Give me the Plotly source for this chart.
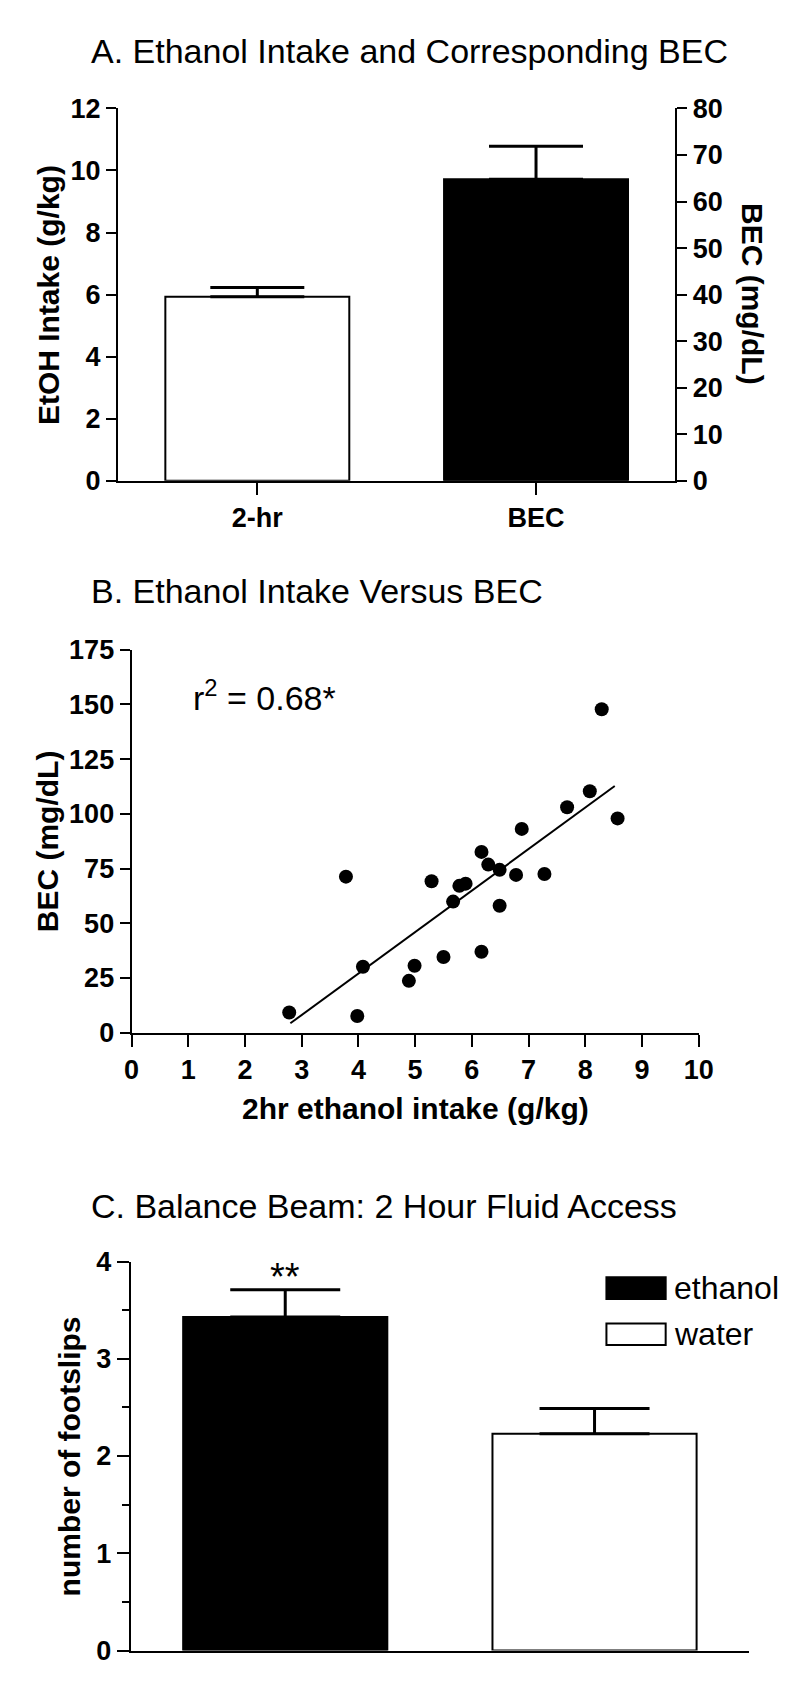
import plotly.graph_objects as go

# ---- panel A: ethanol intake and corresponding BEC ----
a_groups = ["2-hr", "BEC"]
a_intake = [5.93]        # g/kg, left axis
a_intake_sem = [0.30]
a_bec = [64.8]           # mg/dL, right axis
a_bec_sem = [7.1]

# ---- panel B: intake vs BEC scatter ----
b_intake = [2.78, 3.78, 3.98, 4.08, 4.89, 4.99, 5.29, 5.50, 5.67, 5.78, 5.89, 6.17,
            6.17, 6.29, 6.49, 6.49, 6.78, 6.88, 7.28, 7.68, 8.08, 8.29, 8.57]
b_bec = [9.2, 71.3, 7.6, 30.1, 23.7, 30.6, 69.2, 34.6, 59.9, 67.1, 68.1, 82.6,
         37.0, 76.8, 74.4, 58.0, 72.1, 93.1, 72.5, 103.0, 110.3, 147.8, 97.9]
b_fit_x = [2.80, 8.52]
b_fit_y = [4.3, 112.7]
b_r2 = "0.68"

# ---- panel C: balance beam ----
c_groups = ["ethanol", "water"]
c_footslips = [3.43, 2.23]
c_sem = [0.28, 0.26]
c_colors = ["black", "white"]

W, H = 796, 1686
FONT = "Liberation Sans, Arial, Helvetica, sans-serif"


def px(x):
    return x / W


def py(y):
    return 1 - y / H


fig = go.Figure()

# panel A bars (two y axes sharing one x axis)
fig.add_trace(go.Bar(
    x=[a_groups[0]], y=a_intake, xaxis="x", yaxis="y", width=0.66,
    marker=dict(color="white", line=dict(color="black", width=2)),
    error_y=dict(type="data", symmetric=False, array=a_intake_sem, arrayminus=[0],
                 color="black", thickness=3, width=47),
))
fig.add_trace(go.Bar(
    x=[a_groups[1]], y=a_bec, xaxis="x", yaxis="y2", width=0.66,
    marker=dict(color="black", line=dict(color="black", width=2)),
    error_y=dict(type="data", symmetric=False, array=a_bec_sem, arrayminus=[0],
                 color="black", thickness=3, width=47),
))

# panel B scatter + regression line
fig.add_trace(go.Scatter(
    x=b_fit_x, y=b_fit_y, xaxis="x2", yaxis="y3", mode="lines",
    line=dict(color="black", width=2),
))
fig.add_trace(go.Scatter(
    x=b_intake, y=b_bec, xaxis="x2", yaxis="y3", mode="markers",
    marker=dict(color="black", size=14), cliponaxis=False,
))

# panel C bars
for g, v, e, c in zip(c_groups, c_footslips, c_sem, c_colors):
    fig.add_trace(go.Bar(
        x=[g], y=[v], xaxis="x3", yaxis="y4", width=0.66,
        marker=dict(color=c, line=dict(color="black", width=2)),
        error_y=dict(type="data", symmetric=False, array=[e], arrayminus=[0],
                     color="black", thickness=3, width=55),
    ))

ax = dict(showline=True, linecolor="black", linewidth=2, ticks="outside",
          tickcolor="black", tickwidth=2, showgrid=False, zeroline=False,
          tickfont=dict(family=FONT, size=27, color="black", weight="bold"))

fig.update_layout(
    width=W, height=H, margin=dict(l=0, r=0, t=0, b=0),
    paper_bgcolor="white", plot_bgcolor="white",
    showlegend=False, barmode="overlay",
    font=dict(family=FONT, color="black"),
    xaxis=dict(ax, domain=[px(105), px(679)], anchor="y", type="category",
               categoryorder="array", categoryarray=a_groups, range=[-0.5, 1.5],
               ticklen=12),
    yaxis=dict(ax, domain=[py(466), py(87)], anchor="x", range=[0, 12], dtick=2,
               ticklen=10),
    yaxis2=dict(ax, overlaying="y", side="right", anchor="x", range=[0, 80],
                dtick=10, ticklen=10),
    xaxis2=dict(ax, domain=[px(119), px(703)], anchor="y3", range=[0, 10],
                dtick=1, ticklen=12),
    yaxis3=dict(ax, domain=[py(1028), py(638)], anchor="x2", range=[0, 175],
                dtick=25, ticklen=10),
    xaxis3=dict(ax, domain=[px(118), px(755)], anchor="y4", type="category",
                categoryorder="array", categoryarray=c_groups, range=[-0.5, 1.5],
                ticks="", showticklabels=False),
    yaxis4=dict(ax, domain=[py(1657), py(1261)], anchor="x3", range=[0, 4],
                dtick=1, ticklen=12,
                minor=dict(dtick=0.5, ticks="outside", ticklen=7, tickwidth=2,
                           tickcolor="black")),
)

title_font = dict(family=FONT, size=34, color="black")
bold_font = dict(family=FONT, size=30, color="black", weight="bold")
notes = [
    ("A. Ethanol Intake and Corresponding BEC", 75, 28, 0, "left", title_font),
    ("B. Ethanol Intake Versus BEC", 75, 578, 0, "left", title_font),
    ("C. Balance Beam: 2 Hour Fluid Access", 75, 1204, 0, "left", title_font),
    ("EtOH Intake (g/kg)", 33, 277, -90, "center", bold_font),
    ("BEC (mg/dL)", 759, 276, 90, "center", bold_font),
    ("BEC (mg/dL)", 32, 833, -90, "center", bold_font),
    ("2hr ethanol intake (g/kg)", 411, 1105, 0, "center", bold_font),
    ("number of footslips", 55, 1459, -90, "center", bold_font),
    ("ethanol", 676, 1288, 0, "left", dict(family=FONT, size=32, color="black")),
    ("water", 676, 1335, 0, "left", dict(family=FONT, size=32, color="black")),
]
for text, x, y, ang, anc, f in notes:
    fig.add_annotation(text=text, xref="paper", yref="paper", x=px(x), y=py(y),
                       xanchor=anc, yanchor="middle", textangle=ang,
                       showarrow=False, font=f)

fig.add_annotation(text="r<sup>2</sup> = " + b_r2 + "*", xref="x2", yref="y3",
                   x=1.04, y=154, xanchor="left", yanchor="middle",
                   showarrow=False, font=dict(family=FONT, size=34, color="black"))
fig.add_annotation(text="**", xref="x3", yref="y4", x=c_groups[0], y=3.84,
                   xanchor="center", yanchor="middle", showarrow=False,
                   font=dict(family=FONT, size=38, color="black"))

# legend boxes for panel C
fig.add_shape(type="rect", xref="paper", yref="paper", x0=px(608), x1=px(669),
              y0=py(1299), y1=py(1277), fillcolor="black",
              line=dict(color="black", width=2))
fig.add_shape(type="rect", xref="paper", yref="paper", x0=px(608), x1=px(669),
              y0=py(1346), y1=py(1324), fillcolor="white",
              line=dict(color="black", width=2))

fig.write_html("out.html")
